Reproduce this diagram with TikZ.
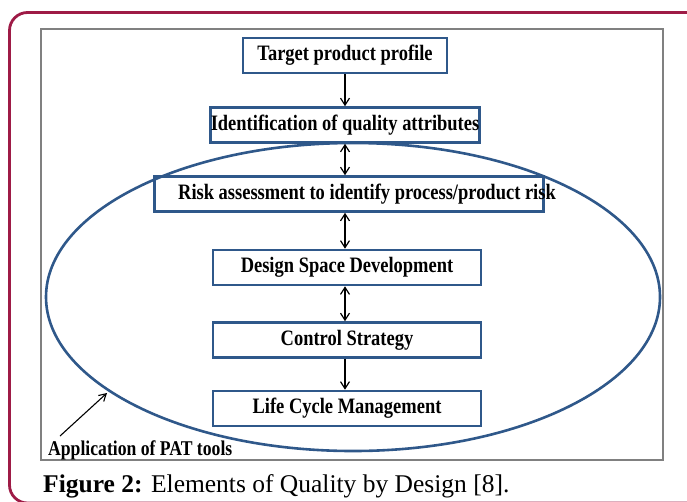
\documentclass[tikz,border=0pt]{standalone}
\usepackage{fontspec}
\setmainfont{Liberation Serif}
\newfontfamily\qbdfont[FakeStretch=0.84]{Liberation Serif}
\usetikzlibrary{arrows.meta}
\definecolor{qbdblue}{RGB}{47,88,138}
\definecolor{framered}{RGB}{158,27,70}
\begin{document}
\begin{tikzpicture}[x=1pt, y=-1pt,
	qbox/.style={draw=qbdblue, line width=2.6pt, minimum height=35pt, inner sep=0pt, font=\qbdfont\bfseries\fontsize{22}{26}\selectfont},
	link/.style={line width=1.2pt, -{Straight Barb[length=7pt,width=9pt]}},
	twolink/.style={line width=1.2pt, {Straight Barb[length=7pt,width=9pt]}-{Straight Barb[length=7pt,width=9pt]}}]
	\useasboundingbox (0,0) rectangle (687,501);
	\draw[framered, line width=2.8pt, rounded corners=18pt] (9.5,12.5) rectangle (720,503);
	\draw[gray, line width=1.6pt] (41,29) rectangle (663,460);
	\draw[qbdblue, line width=2.6pt] (353,297) ellipse [x radius=307pt, y radius=154pt];
	\node[qbox, minimum width=204pt] (tpp) at (345,55.5) {\makebox[0pt]{Target product profile}};
	\node[qbox, minimum width=269pt] (iqa) at (345,125) {\makebox[0pt]{Identification of quality attributes}};
	\node[qbox, minimum width=389pt] (ra) at (349,194) {\hspace*{36pt}\makebox[0pt]{Risk assessment to identify process/product risk}};
	\node[qbox, minimum width=268pt] (dsd) at (347,267.5) {\makebox[0pt]{Design Space Development}};
	\node[qbox, minimum width=268pt] (cs) at (347,340) {\makebox[0pt]{Control Strategy}};
	\node[qbox, minimum width=268pt] (lcm) at (347,408.5) {\makebox[0pt]{Life Cycle Management}};
	\draw[link] (tpp.south) -- (iqa.north);
	\draw[twolink] (iqa.south) -- (iqa.south |- ra.north);
	\draw[twolink] (iqa.south |- ra.south) -- (iqa.south |- dsd.north);
	\draw[twolink] (iqa.south |- dsd.south) -- (iqa.south |- cs.north);
	\draw[link] (iqa.south |- cs.south) -- (iqa.south |- lcm.north);
	\node[anchor=base west, inner sep=0pt, font=\qbdfont\bfseries\fontsize{21}{24}\selectfont] (pat) at (48,455) {Application of PAT tools};
	\coordinate (pattip) at (107,393);
	\draw[line width=1.1pt, -{Straight Barb[length=7pt,width=8pt]}] ([xshift=12pt, yshift=4pt]pat.north west) -- (pattip);
	\node[anchor=base west, inner sep=0pt, font=\fontsize{25.5}{30}\selectfont] (cap) at (43,492) {\textbf{Figure 2:} Elements of Quality by Design [8].};
\end{tikzpicture}
\end{document}
